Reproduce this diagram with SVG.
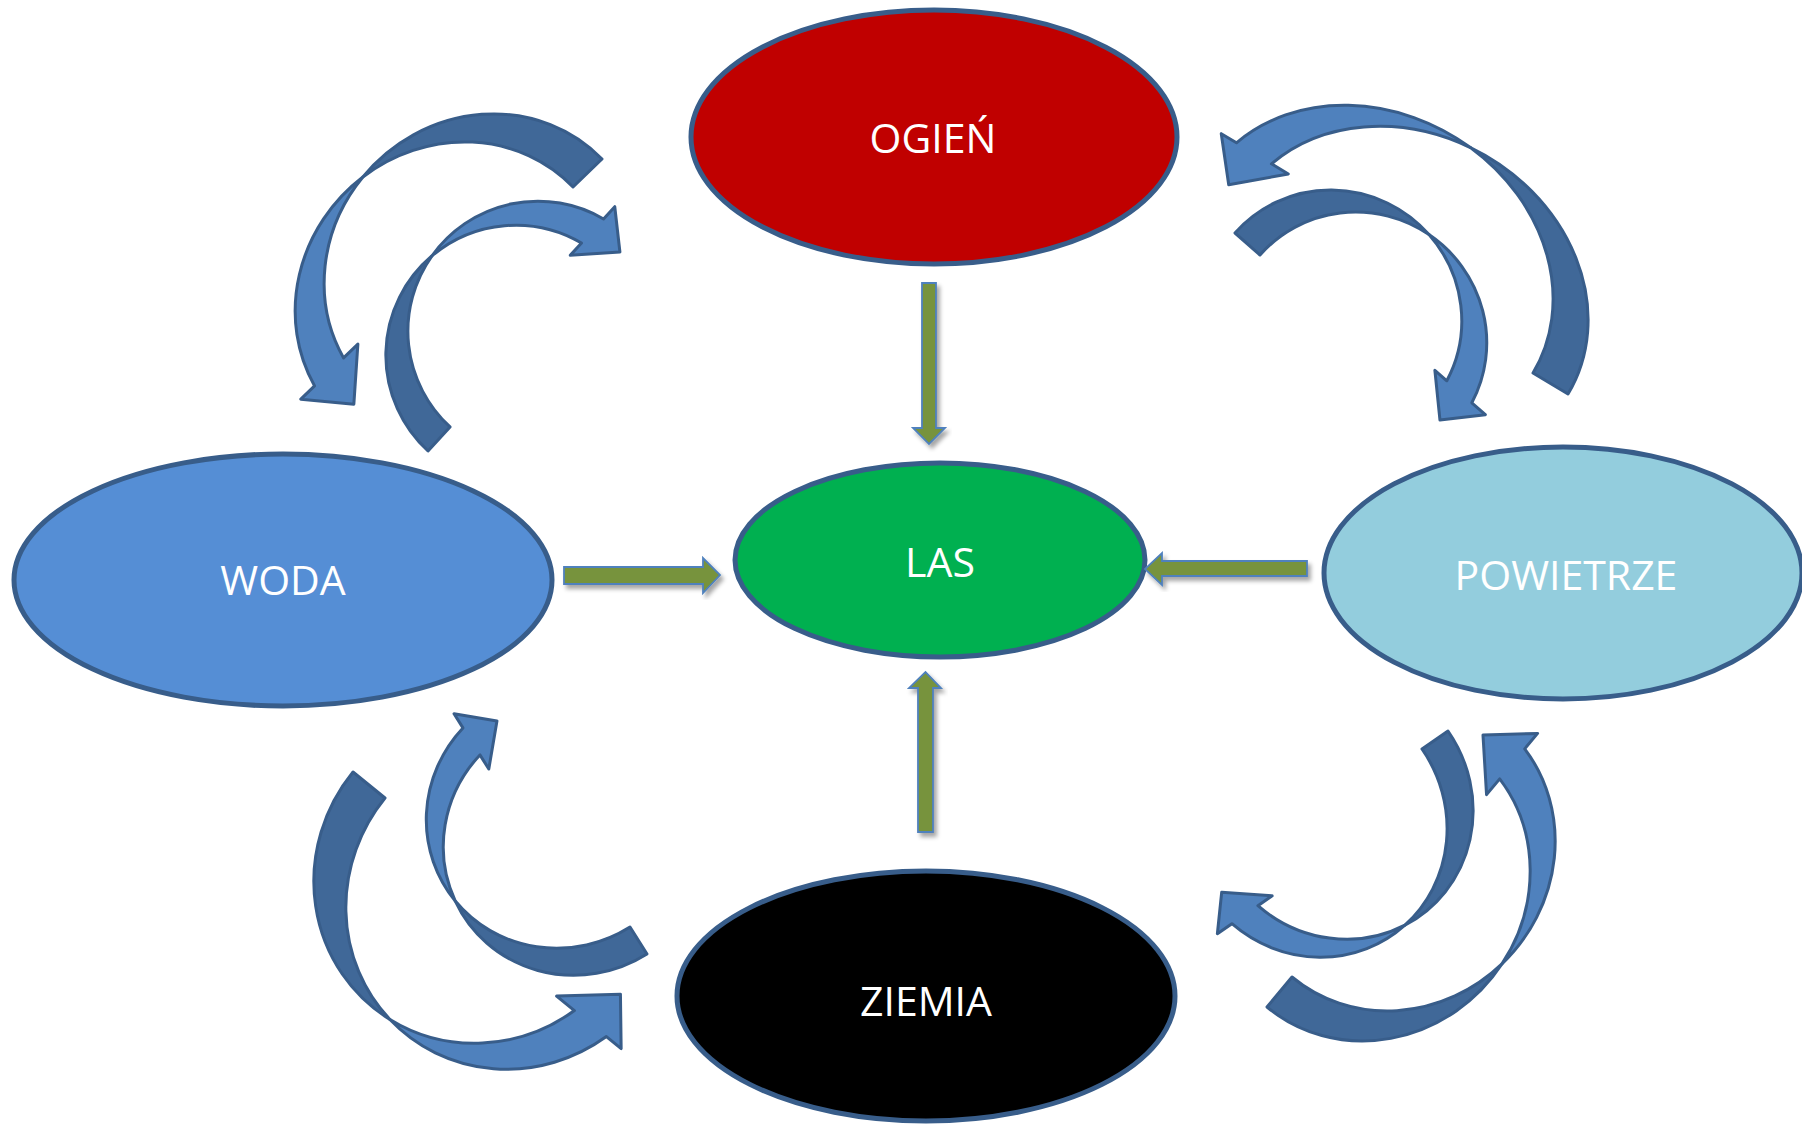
<svg xmlns="http://www.w3.org/2000/svg" width="1802" height="1124" viewBox="0 0 1802 1124">
<defs>
<style>
.node{stroke:#385D8A;stroke-width:5}
.lbl{font-family:"Open Sans","Noto Sans","DejaVu Sans",sans-serif;font-size:41px;fill:#FFFFFF;text-anchor:middle}
.garrow{fill:#77933C;stroke:#4F81BD;stroke-width:1.8;filter:url(#sh)}
.carrow{fill:#4F81BD;stroke:#385D8A;stroke-width:3;stroke-linejoin:round}
.cdark{fill:#406898;stroke:#385D8A;stroke-width:3;stroke-linejoin:round}
</style>
<filter id="sh" x="-20%" y="-20%" width="140%" height="140%">
<feDropShadow dx="3" dy="4" stdDeviation="2" flood-color="#000" flood-opacity="0.35"/>
</filter>
</defs>
<rect width="1802" height="1124" fill="#FFFFFF"/>

<g id="ogien">
<ellipse class="node" cx="934" cy="137" rx="243" ry="127" fill="#C00000"/>
<text class="lbl" x="933" y="153">OGIEŃ</text>
</g>
<g id="las">
<ellipse class="node" cx="940" cy="560" rx="205" ry="97" fill="#00B050"/>
<text class="lbl" x="940" y="577">LAS</text>
</g>
<g id="woda">
<ellipse class="node" cx="283" cy="580" rx="269" ry="126" fill="#558ED5"/>
<text class="lbl" x="283" y="595">WODA</text>
</g>
<g id="powietrze">
<ellipse class="node" cx="1563" cy="573" rx="239" ry="126" fill="#93CDDD"/>
<text class="lbl" x="1566" y="590">POWIETRZE</text>
</g>
<g id="ziemia">
<ellipse class="node" cx="926" cy="996" rx="249" ry="125" fill="#000000"/>
<text class="lbl" x="926" y="1016">ZIEMIA</text>
</g>

<g id="connectors">
<path class="garrow" d="M922,283 L936,283 L936,428 L945,428 L929,444 L913,428 L922,428 Z"/>
<path class="garrow" d="M564,567 L703,567 L703,558 L720,575 L703,593 L703,584 L564,584 Z"/>
<path class="garrow" d="M1307,561 L1162,561 L1162,553 L1145,569 L1162,585 L1162,576 L1307,576 Z"/>
<path class="garrow" d="M918,832 L918,688 L909,688 L925.5,672 L941,688 L933,688 L933,832 Z"/>

<g id="arrowA" transform="matrix(-0.7196 0.6948 0.6948 0.7196 602 159)">
<path class="cdark" d="M0,0 A164.3,154.3 0 0 1 184.45,-153.14 A164.3,154.3 0 0 0 40.3,0 Z"/>
<path class="carrow" d="M184.45,-153.14 A164.3,154.3 0 0 1 364.27,-36.4 L383.4,-36.4 L348.7,4 L304.1,-36.4 L323.97,-36.4 A164.3,154.3 0 0 0 184.45,-153.14 Z"/>
</g>
<g id="arrowB" transform="matrix(0.6757 -0.7371 0.7371 0.6757 428 451)">
<path class="cdark" d="M0,0 A130,130 0 0 1 146.3,-128.97 A130,130 0 0 0 32.6,0 Z"/>
<path class="carrow" d="M146.3,-128.97 A130,130 0 0 1 289.68,-27.4 L306.3,-27.4 L276.4,7 L240.4,-27.4 L257.08,-27.4 A130,130 0 0 0 146.3,-128.97 Z"/>
</g>
<g id="arrowC" transform="matrix(-0.8578 -0.5147 -0.5147 0.8578 1568 394)">
<path class="cdark" d="M0,0 A190,162 0 0 1 210.4,-161.06 A190,162 0 0 0 40.8,0 Z"/>
<path class="carrow" d="M210.4,-161.06 A190,162 0 0 1 413.39,-44.8 L431.1,-44.8 L398.4,-4.8 L352.9,-44.8 L372.59,-44.8 A190,162 0 0 0 210.4,-161.06 Z"/>
</g>
<g id="arrowD" transform="matrix(0.7508 0.6607 -0.6607 0.7508 1235 233)">
<path class="cdark" d="M0,0 A130,128 0 0 1 146.65,-126.95 A130,128 0 0 0 33.3,0 Z"/>
<path class="carrow" d="M146.65,-126.95 A130,128 0 0 1 289.92,-29 L307.9,-29 L277.4,5 L240.7,-29 L256.62,-29 A130,128 0 0 0 146.65,-126.95 Z"/>
</g>
<g id="arrowE" transform="matrix(0.7767 0.6311 0.6311 -0.7767 353 772)">
<path class="cdark" d="M0,0 A164,170 0 0 1 184.6,-168.65 A164,170 0 0 0 41.2,0 Z"/>
<path class="carrow" d="M184.6,-168.65 A164,170 0 0 1 363.22,-45.5 L382.2,-45.5 L347.5,-3.9 L299.1,-45.5 L322.02,-45.5 A164,170 0 0 0 184.6,-168.65 Z"/>
</g>
<g id="arrowF" transform="matrix(-0.5329 -0.8464 0.8464 -0.5329 647 954)">
<path class="cdark" d="M0,0 A131,135 0 0 1 146.95,-134 A131,135 0 0 0 31.9,0 Z"/>
<path class="carrow" d="M146.95,-134 A131,135 0 0 1 289.34,-35.3 L306,-35.3 L277.1,-2.8 L240.8,-35.3 L257.44,-35.3 A131,135 0 0 0 146.95,-134 Z"/>
</g>
<g id="arrowG" transform="matrix(-0.8228 0.5696 -0.5696 -0.8228 1448 731)">
<path class="cdark" d="M0,0 A130,136 0 0 1 145.8,-134.99 A130,136 0 0 0 31.6,0 Z"/>
<path class="carrow" d="M145.8,-134.99 A130,136 0 0 1 287.12,-35.4 L304.8,-35.4 L277.7,-3.8 L238.2,-35.4 L255.52,-35.4 A130,136 0 0 0 145.8,-134.99 Z"/>
</g>
<g id="arrowH" transform="matrix(0.6402 -0.7682 -0.7682 -0.6402 1267 1007)">
<path class="cdark" d="M0,0 A164,154 0 0 1 183.53,-152.91 A164,154 0 0 0 39.05,0 Z"/>
<path class="carrow" d="M183.53,-152.91 A164,154 0 0 1 363.31,-32.7 L383.4,-32.7 L347.2,8.2 L303.7,-32.7 L324.26,-32.7 A164,154 0 0 0 183.53,-152.91 Z"/>
</g>
</g>
</svg>
